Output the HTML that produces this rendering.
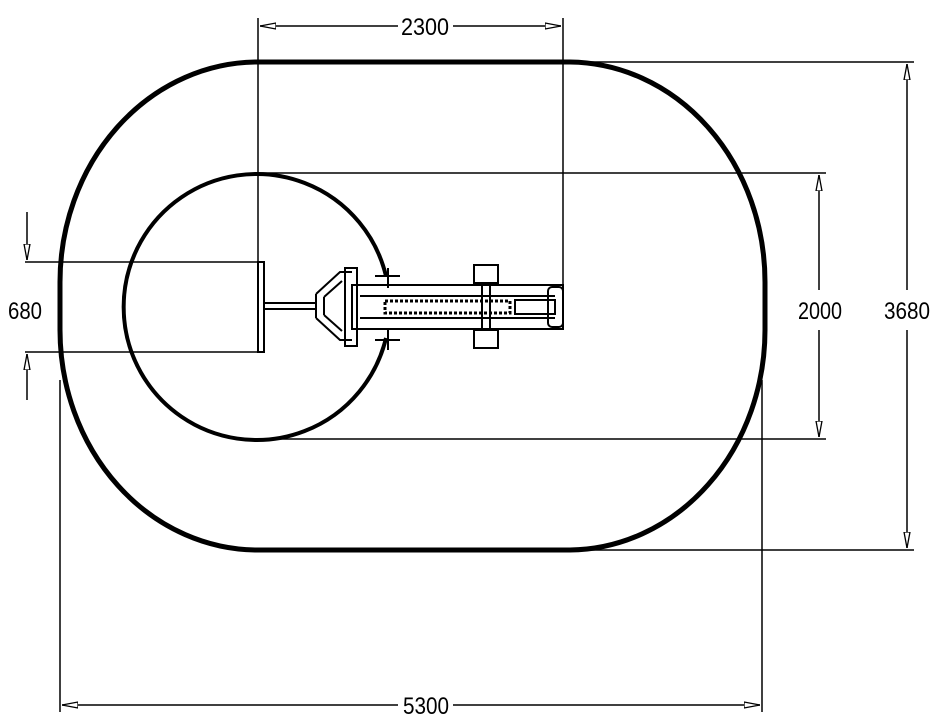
<!DOCTYPE html>
<html><head><style>body{margin:0;background:#fff}svg{display:block}text{font-family:"Liberation Sans",sans-serif;font-size:24px;fill:#000}</style></head>
<body><svg width="942" height="722" viewBox="0 0 942 722">
<defs><marker id="a" markerWidth="16" markerHeight="8" refX="16" refY="4" orient="auto" markerUnits="userSpaceOnUse"><path d="M0,1 L16,4 L0,7 Z" fill="#fff" stroke="#000" stroke-width="1.3"/></marker></defs>
<g fill="none" stroke="#000">
<path d="M258,62 H570 A197,220 0 0 1 765,282 V330 A197,220 0 0 1 570,550 H258 A198,220 0 0 1 60,330 V282 A198,220 0 0 1 258,62 Z" stroke-width="5"/>
<path d="M386,276 A133,133 0 1 0 386,338" stroke-width="4"/>
<g stroke-width="1.5">
<path d="M258,18 V352 M563,18 V302"/>
<path d="M258,173 H826 M258,439 H826 M570,62 H914 M570,550 H914"/>
<path d="M25,262 H262 M25,352 H262 M60,380 V712 M762,380 V712"/>
<line x1="398" y1="26" x2="260" y2="26" marker-end="url(#a)"/><line x1="453" y1="26" x2="561" y2="26" marker-end="url(#a)"/>
<line x1="819" y1="290" x2="819" y2="175" marker-end="url(#a)"/><line x1="819" y1="330" x2="819" y2="437" marker-end="url(#a)"/>
<line x1="907" y1="290" x2="907" y2="64" marker-end="url(#a)"/><line x1="907" y1="330" x2="907" y2="548" marker-end="url(#a)"/>
<line x1="398" y1="705" x2="62" y2="705" marker-end="url(#a)"/><line x1="453" y1="705" x2="760" y2="705" marker-end="url(#a)"/>
<line x1="27" y1="212" x2="27" y2="260" marker-end="url(#a)"/><line x1="27" y1="400" x2="27" y2="354" marker-end="url(#a)"/>
</g>
<g stroke-width="2">
<rect x="258" y="262" width="6" height="90"/>
<path d="M264,303 H316 M264,309 H316"/>
<path d="M316,294 L340,272 H352 M316,318 L340,340 H352 M316,294 V318 M324,297 L342,281 M324,315 L342,331 M324,297 V315"/>
<rect x="345" y="268" width="12" height="78"/>
<rect x="352" y="285" width="211" height="44"/>
<path d="M360,296 H555 M360,318 H555"/>
<rect x="385" y="301" width="125" height="12" stroke-width="3" stroke-dasharray="3,2"/>
<rect x="515" y="300" width="40" height="14"/>
<rect x="548" y="287" width="15" height="40" rx="4"/>
<rect x="474" y="265" width="24" height="18"/><rect x="474" y="330" width="24" height="18"/>
<path d="M482,283 V330 M490,283 V330"/>
<path d="M375,276 H400 M388,268 V288 M375,340 H400 M388,328 V350"/>
</g></g>
<g text-anchor="middle">
<text x="425" y="35" textLength="48" lengthAdjust="spacingAndGlyphs">2300</text>
<text x="820" y="319" textLength="44" lengthAdjust="spacingAndGlyphs">2000</text>
<text x="907" y="319" textLength="46" lengthAdjust="spacingAndGlyphs">3680</text>
<text x="426" y="714" textLength="46" lengthAdjust="spacingAndGlyphs">5300</text>
<text x="25" y="319" textLength="34" lengthAdjust="spacingAndGlyphs">680</text></g>
</svg></body></html>
